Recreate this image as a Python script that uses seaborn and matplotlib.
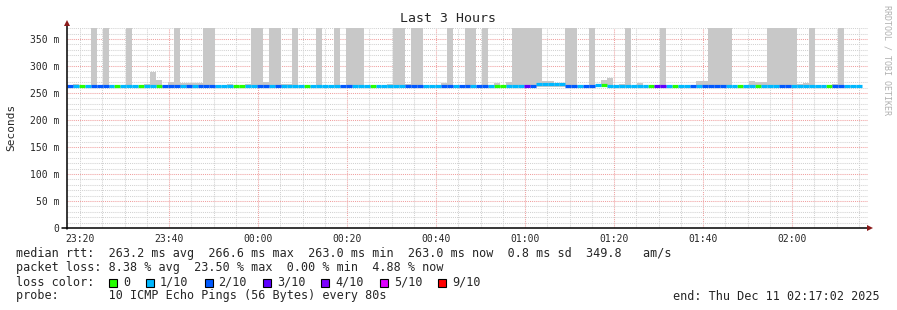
import numpy as np
import pandas as pd
import matplotlib
matplotlib.use("Agg")
import matplotlib.pyplot as plt
import seaborn as sns
from matplotlib.patches import Rectangle
from matplotlib.lines import Line2D

# ---------------- data ----------------
title = "Last 3 Hours"
start_clock = (23, 17, 2)          # 23:17:02, 3 hours before end
span_min = 180.0
step_min = 80.0 / 60.0             # one probe every 80 s

# loss level per probe step (index into loss_colors)
loss_level = [
    2, 1, 0, 1, 2, 2, 2, 1, 0, 1,
    1, 1, 0, 1, 1, 0, 2, 2, 2, 1,
    2, 1, 2, 2, 2, 1, 1, 1, 0, 0,
    1, 1, 2, 2, 1, 2, 1, 1, 1, 1,
    0, 1, 1, 1, 1, 1, 2, 2, 1, 1,
    1, 0, 1, 1, 1, 1, 1, 2, 2, 2,
    1, 1, 1, 2, 2, 1, 2, 2, 1, 2,
    2, 1, 0, 0, 1, 1, 1, 3, 2, 1,
    1, 1, 1, 1, 2, 2, 1, 2, 2, 1,
    0, 1, 1, 1, 1, 1, 1, 1, 0, 3,
    3, 1, 0, 1, 1, 2, 1, 2, 2, 2,
    2, 1, 1, 0, 1, 1, 0, 1, 1, 1,
    2, 2, 1, 1, 1, 1, 1, 1, 0, 2,
    2, 1, 1, 1,
]

# median rtt per step (ms)
median_ms = [
    263.0, 263.0, 263.0, 263.0, 263.0, 263.0, 263.0, 263.0, 263.0, 263.0,
    263.0, 263.0, 263.0, 263.0, 263.0, 263.0, 263.0, 263.0, 263.0, 263.0,
    263.0, 263.0, 263.0, 263.0, 263.0, 263.0, 263.0, 263.0, 263.0, 263.0,
    263.0, 263.0, 263.0, 263.0, 263.0, 263.0, 263.0, 263.0, 263.0, 263.0,
    263.0, 263.0, 263.0, 263.0, 263.0, 263.0, 263.0, 263.0, 263.0, 263.0,
    263.0, 263.0, 263.0, 263.0, 263.0, 263.0, 263.0, 263.0, 263.0, 263.0,
    263.0, 263.0, 263.0, 263.0, 263.0, 263.0, 263.0, 263.0, 263.0, 263.0,
    263.0, 263.0, 263.0, 263.0, 263.0, 263.0, 263.0, 263.0, 263.0, 266.6,
    266.6, 266.6, 266.6, 266.6, 263.0, 263.0, 263.0, 263.0, 263.0, 264.5,
    265.0, 263.0, 263.0, 263.0, 263.0, 263.0, 263.0, 263.0, 263.0, 263.0,
    263.0, 263.0, 263.0, 263.0, 263.0, 263.0, 263.0, 263.0, 263.0, 263.0,
    263.0, 263.0, 263.0, 263.0, 263.0, 263.0, 263.0, 263.0, 263.0, 263.0,
    263.0, 263.0, 263.0, 263.0, 263.0, 263.0, 263.0, 263.0, 263.0, 263.0,
    263.0, 263.0, 263.0, 263.0,
]

# upper edge of the smoke (max ping) per step (ms); 400 = beyond the chart top
smoke_top_ms = [
    263, 266, 263, 263, 400, 263, 400, 263, 263, 263,
    400, 263, 263, 267, 289, 274, 263, 270, 400, 268,
    268, 268, 268, 400, 400, 263, 263, 266, 263, 263,
    266, 400, 400, 270, 400, 400, 266, 266, 400, 263,
    263, 263, 400, 263, 263, 400, 263, 400, 400, 400,
    263, 263, 263, 263, 266, 400, 400, 266, 400, 400,
    263, 263, 263, 268, 400, 263, 263, 400, 400, 263,
    400, 263, 268, 263, 270, 400, 400, 400, 400, 400,
    272, 272, 268, 268, 400, 400, 263, 263, 400, 263,
    274, 278, 263, 266, 400, 263, 268, 263, 263, 263,
    400, 263, 263, 263, 263, 263, 272, 272, 400, 400,
    400, 400, 263, 263, 263, 272, 270, 270, 400, 400,
    400, 400, 400, 266, 268, 400, 263, 263, 263, 266,
    400, 263, 263, 263,
]
smoke_bottom_ms = 261.0

loss_colors = ["#26ff00", "#00b8ff", "#0059ff", "#5e00ff", "#7e00ff", "#dd00ff", "#ff0000"]
loss_labels = ["0", "1/10", "2/10", "3/10", "4/10", "5/10", "9/10"]

xtick_labels = ["23:20", "23:40", "00:00", "00:20", "00:40", "01:00", "01:20", "01:40", "02:00"]
ytick_values = [0, 50, 100, 150, 200, 250, 300, 350]
ytick_labels = ["0", "50 m", "100 m", "150 m", "200 m", "250 m", "300 m", "350 m"]
y_top = 370.4

stat_rtt = "median rtt:  263.2 ms avg  266.6 ms max  263.0 ms min  263.0 ms now  0.8 ms sd  349.8   am/s"
stat_loss = "packet loss: 8.38 % avg  23.50 % max  0.00 % min  4.88 % now"
stat_probe = "probe:       10 ICMP Echo Pings (56 Bytes) every 80s"
end_text = "end: Thu Dec 11 02:17:02 2025"
side_text = "RRDTOOL / TOBI OETIKER"

# ---------------- helpers ----------------
start_min = start_clock[0] * 60 + start_clock[1] + start_clock[2] / 60.0


def clock_to_offset(lbl):
    h, m = map(int, lbl.split(":"))
    v = h * 60 + m
    if v < start_min:
        v += 1440
    return v - start_min


W, H = 897, 310


def fx(px):
    return px / W


def fy(py):
    return 1 - py / H


# ---------------- figure ----------------
sns.set_style("white")
plt.rcParams["font.family"] = ["DejaVu Sans Mono", "DejaVu Sans"]

fig = plt.figure(figsize=(W / 100, H / 100), dpi=100)
fig.patch.set_facecolor("white")
ax = fig.add_axes([fx(67), fy(228), (868 - 67) / W, 200 / H])

n = len(loss_level)
t_start = np.arange(n) * step_min
t_end = t_start + step_min

# smoke
edges = np.append(t_start, t_end[-1])
tops = np.append(smoke_top_ms, smoke_top_ms[-1])
ax.fill_between(edges, smoke_bottom_ms, tops, step="post", color="#c8c8c8",
                linewidth=0, zorder=1)

# median line coloured by loss
rows = []
for i in range(n):
    rows.append(dict(t=t_start[i], ms=median_ms[i], seg=i, loss=loss_labels[loss_level[i]]))
    rows.append(dict(t=t_end[i], ms=median_ms[i], seg=i, loss=loss_labels[loss_level[i]]))
df = pd.DataFrame(rows)
palette = dict(zip(loss_labels, loss_colors))
sns.lineplot(data=df, x="t", y="ms", hue="loss", units="seg", estimator=None,
             palette=palette, hue_order=loss_labels, legend=False, sort=False,
             linewidth=2.3, solid_capstyle="butt", ax=ax, zorder=3)

# axes
ax.set_xlim(0, span_min)
ax.set_ylim(0, y_top)
xt = [clock_to_offset(l) for l in xtick_labels]
ax.set_xticks(xt)
ax.set_xticklabels(xtick_labels)
ax.set_xticks(np.arange(xt[0], span_min, 5.0), minor=True)
ax.set_yticks(ytick_values)
ax.set_yticklabels(ytick_labels)
ax.set_yticks(np.arange(0, y_top, 10.0), minor=True)
ax.set_xlabel("")
ax.set_ylabel("")

ax.grid(which="minor", color="#d2d2d2", linestyle=(0, (1, 1)), linewidth=0.75, zorder=0)
ax.grid(which="major", color="#f0a0a0", linestyle=(0, (1, 1)), linewidth=0.75, zorder=0)
ax.get_xgridlines()[0].set_color("#d2d2d2")
ax.set_axisbelow(True)

for s in ["top", "right", "left", "bottom"]:
    ax.spines[s].set_visible(False)

ax.tick_params(axis="both", which="major", length=2.5, width=0.8, direction="out",
               labelsize=7, pad=2, color="black")
ax.tick_params(axis="both", which="minor", length=1.5, width=0.6, direction="out", color="black")
ax.tick_params(axis="y", which="major", pad=3)

# axis lines with arrows
fig.add_artist(Line2D([fx(67), fx(67)], [fy(229), fy(24)], color="black", lw=1.1))
fig.add_artist(Line2D([fx(62), fx(868)], [fy(228), fy(228)], color="black", lw=1.1))
fig.add_artist(Line2D([fx(67)], [fy(23)], marker="^", markersize=4.5, color="#8b1a1a",
                      markeredgewidth=0))
fig.add_artist(Line2D([fx(870)], [fy(228)], marker=">", markersize=4.5, color="#8b1a1a",
                      markeredgewidth=0))

# texts
fig.text(fx(448), fy(19), title, ha="center", va="center", fontsize=9.5)
fig.text(fx(11), fy(127), "Seconds", rotation=90, ha="center", va="center", fontsize=8)
fig.text(fx(887), fy(60), side_text, rotation=270, ha="center", va="center",
         fontsize=6, color="#b0b0b0")

fs = 8.5
fig.text(fx(16), fy(254), stat_rtt, ha="left", va="center", fontsize=fs)
fig.text(fx(16), fy(268), stat_loss, ha="left", va="center", fontsize=fs)
fig.text(fx(16), fy(282), "loss color:", ha="left", va="center", fontsize=fs)
fig.text(fx(16), fy(296), stat_probe, ha="left", va="center", fontsize=fs)
fig.text(fx(880), fy(296), end_text, ha="right", va="center", fontsize=fs)

x_sq = 109.0
for lbl, col in zip(loss_labels, loss_colors):
    fig.add_artist(Rectangle((fx(x_sq), fy(287)), 8 / W, 8 / H, transform=fig.transFigure,
                             facecolor=col, edgecolor="black", linewidth=0.8))
    fig.text(fx(x_sq + 14), fy(282), lbl, ha="left", va="center", fontsize=fs)
    x_sq += 30.0 + 7.1 * len(lbl)

fig.savefig("out.png", dpi=100, facecolor="white")
